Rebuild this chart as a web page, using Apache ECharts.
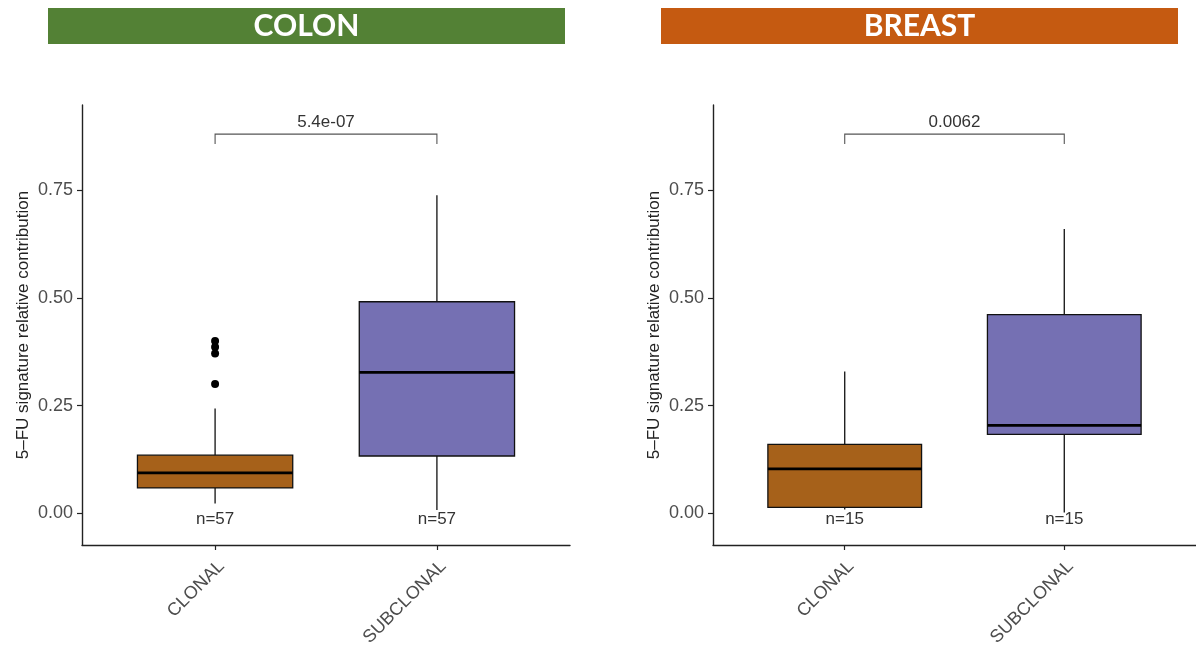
<!DOCTYPE html>
<html>
<head>
<meta charset="utf-8">
<script src="https://cdn.jsdelivr.net/npm/echarts@6/dist/echarts.min.js"></script>
<style>
  html, body { margin: 0; padding: 0; background: #ffffff; }
  #chart { width: 1196px; height: 650px; }
</style>
</head>
<body>
<div id="chart"></div>
<script>
// Categories on each panel's x axis
const categories = ['CLONAL', 'SUBCLONAL'];
// Panel headers
const panelTitles = ['COLON', 'BREAST'];
// Box summaries per category: [lower whisker, Q1, median, Q3, upper whisker]
const colonBoxes = [
  [0.023, 0.059, 0.094, 0.135, 0.243],
  [0.008, 0.133, 0.327, 0.491, 0.738]
];
const breastBoxes = [
  [0.009, 0.014, 0.103, 0.160, 0.329],
  [0.002, 0.183, 0.204, 0.461, 0.660]
];
// Outlying samples: [category, value]
const colonOutliers = [
  ['CLONAL', 0.400],
  ['CLONAL', 0.386],
  ['CLONAL', 0.371],
  ['CLONAL', 0.300]
];
const breastOutliers = [];
// Group sizes per category
const colonCounts = [57, 57];
const breastCounts = [15, 15];
// Wilcoxon test p-values (CLONAL vs SUBCLONAL)
const pValues = ['5.4e-07', '0.0062'];
// y axis tick values
const yTicks = [0, 0.25, 0.5, 0.75];

const boxColors = ['#A6611A', '#7570B3'];
const headerColors = ['#538135', '#C55A11'];
const FONT = '"Liberation Sans", Arial, Helvetica, sans-serif';
const BOX_WIDTH = 0.7;
const BRACKET_Y = 0.88;
const BRACKET_DROP = 0.023;
const COUNT_LABEL_Y = -0.015;

const panels = [
  { boxes: colonBoxes, outliers: colonOutliers, counts: colonCounts, p: pValues[0] },
  { boxes: breastBoxes, outliers: breastOutliers, counts: breastCounts, p: pValues[1] }
];

const catPos = name => categories.indexOf(name) + 1;

function renderBox(params, api) {
  const x = api.value(0);
  const lo = api.coord([x, api.value(1)]);
  const q1 = api.coord([x, api.value(2)]);
  const med = api.coord([x, api.value(3)]);
  const q3 = api.coord([x, api.value(4)]);
  const hi = api.coord([x, api.value(5)]);
  const half = api.size([BOX_WIDTH, 0])[0] / 2;
  const cx = lo[0];
  const edge = '#111111';
  return {
    type: 'group',
    children: [
      { type: 'line', shape: { x1: cx, y1: hi[1], x2: cx, y2: q3[1] }, style: { stroke: edge, lineWidth: 1.3 } },
      { type: 'line', shape: { x1: cx, y1: q1[1], x2: cx, y2: lo[1] }, style: { stroke: edge, lineWidth: 1.3 } },
      { type: 'rect', shape: { x: cx - half, y: q3[1], width: 2 * half, height: q1[1] - q3[1] },
        style: { fill: boxColors[params.dataIndex], stroke: edge, lineWidth: 1.3 } },
      { type: 'line', shape: { x1: cx - half, y1: med[1], x2: cx + half, y2: med[1] },
        style: { stroke: '#000000', lineWidth: 2.8 } }
    ]
  };
}

function makeBracketRenderer(label) {
  return function (params, api) {
    const a = api.coord([api.value(0), api.value(2)]);
    const b = api.coord([api.value(1), api.value(2)]);
    const drop = api.coord([api.value(0), api.value(2) - BRACKET_DROP])[1];
    return {
      type: 'group',
      children: [
        { type: 'polyline', shape: { points: [[a[0], drop], [a[0], a[1]], [b[0], b[1]], [b[0], drop]] },
          style: { stroke: '#555555', lineWidth: 1.1, fill: null } },
        { type: 'text', x: (a[0] + b[0]) / 2, y: a[1] - 3,
          style: { text: label, font: '17px ' + FONT, fill: '#333333',
                   align: 'center', verticalAlign: 'bottom' } }
      ]
    };
  };
}

function renderCount(params, api) {
  const p = api.coord([api.value(0), api.value(1)]);
  return {
    type: 'text', x: p[0], y: p[1],
    style: { text: 'n=' + api.value(2), font: '17px ' + FONT, fill: '#333333', align: 'center', verticalAlign: 'middle' }
  };
}

const grids = [
  { left: 82, top: 105, width: 488, height: 440 },
  { left: 713, top: 105, width: 488, height: 440 }
];

const xAxes = grids.map((g, i) => ({
  type: 'value', gridIndex: i, min: 0.4, max: 2.6,
  splitLine: { show: false },
  axisLine: { show: true, onZero: false, lineStyle: { color: '#222222', width: 1.4 } },
  axisTick: { show: true, customValues: [1, 2], length: 5, lineStyle: { color: '#222222', width: 1.2 } },
  axisLabel: {
    customValues: [1, 2], rotate: 45, margin: 12,
    align: 'right', verticalAlign: 'top',
    formatter: v => categories[Math.round(v) - 1],
    fontSize: 18, fontFamily: FONT, color: '#4d4d4d'
  }
}));

const yAxes = grids.map((g, i) => ({
  type: 'value', gridIndex: i, min: -0.0735, max: 0.9475,
  name: '5\u2013FU signature relative contribution',
  nameLocation: 'middle', nameGap: 50,
  nameTextStyle: { fontSize: 17, fontFamily: FONT, color: '#222222' },
  splitLine: { show: false },
  axisLine: { show: true, onZero: false, lineStyle: { color: '#222222', width: 1.4 } },
  axisTick: { show: true, customValues: yTicks, length: 5, lineStyle: { color: '#222222', width: 1.2 } },
  axisLabel: {
    customValues: yTicks, margin: 9,
    formatter: v => v.toFixed(2),
    fontSize: 18, fontFamily: FONT, color: '#4d4d4d'
  }
}));

const series = [];
panels.forEach((pn, i) => {
  series.push({
    type: 'custom', xAxisIndex: i, yAxisIndex: i, renderItem: renderBox,
    data: pn.boxes.map((b, k) => [k + 1].concat(b)), z: 2
  });
  series.push({
    type: 'custom', xAxisIndex: i, yAxisIndex: i, renderItem: makeBracketRenderer(pn.p),
    data: [[1, 2, BRACKET_Y]], z: 3
  });
  series.push({
    type: 'scatter', xAxisIndex: i, yAxisIndex: i, symbolSize: 8,
    itemStyle: { color: '#000000', opacity: 1 },
    data: pn.outliers.map(o => [catPos(o[0]), o[1]]), z: 4
  });
  series.push({
    type: 'custom', xAxisIndex: i, yAxisIndex: i, renderItem: renderCount,
    data: pn.counts.map((n, k) => [k + 1, COUNT_LABEL_Y, n]), z: 4
  });
});

const headerBoxes = [{ left: 48, width: 517 }, { left: 661, width: 517 }];
const graphic = [];
panelTitles.forEach((t, i) => {
  graphic.push({
    type: 'rect', left: headerBoxes[i].left, top: 8,
    shape: { width: headerBoxes[i].width, height: 36 },
    style: { fill: headerColors[i] }
  });
  graphic.push({
    type: 'text', x: headerBoxes[i].left + headerBoxes[i].width / 2, y: 26,
    style: { text: t, font: 'bold 30px Lato, "Open Sans", sans-serif', fill: '#ffffff',
             align: 'center', verticalAlign: 'middle' }
  });
});

const chart = echarts.init(document.getElementById('chart'), null, { renderer: 'canvas' });
chart.setOption({
  animation: false,
  backgroundColor: '#ffffff',
  grid: grids,
  xAxis: xAxes,
  yAxis: yAxes,
  series: series,
  graphic: graphic
});
</script>
</body>
</html>
